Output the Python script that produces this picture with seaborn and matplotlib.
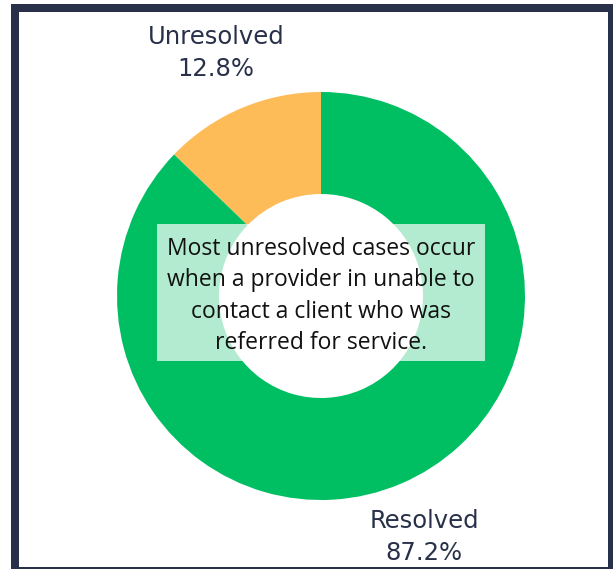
import matplotlib.pyplot as plt
import matplotlib.patches as mpatches
import seaborn as sns

# data
labels = ['Unresolved', 'Resolved']
shares = [12.8, 87.2]
colors = ['#FEBC59', '#00BF63']
note = ('Most unresolved cases occur\nwhen a provider in unable to\n'
        'contact a client who was\nreferred for service.')

sns.set_theme(style='white')
plt.rcParams['font.family'] = ['DejaVu Sans']

W, H = 613, 569
fig = plt.figure(figsize=(W / 100, H / 100), dpi=100)
fig.patch.set_facecolor('white')
ax = fig.add_axes([0, 0, 1, 1])

# donut, pixel-like data coordinates (y up)
cx, cy, r = 321, H - 296, 204
wedges, _ = ax.pie(shares, colors=colors, startangle=90, counterclock=True,
                   center=(cx, cy), radius=r,
                   wedgeprops=dict(width=r * 0.5, edgecolor='none'))
ax.set_xlim(0, W)
ax.set_ylim(0, H)
ax.set_aspect('auto')
ax.axis('off')

# translucent white note box (hole stays white under it)
ax.add_patch(mpatches.Rectangle((157, H - 361), 328, 137, facecolor='white',
                                alpha=0.7, edgecolor='none', zorder=3))
ax.text(321, H - 296, note, ha='center', va='center', fontsize=16.5,
        family=['Open Sans', 'DejaVu Sans'], color='#111111',
        linespacing=1.42, zorder=4)

# slice labels
navy = '#283149'
ax.text(216, H - 53, f'{labels[0]}\n{shares[0]}%', ha='center', va='center',
        fontsize=17.5, color=navy, linespacing=1.45)
ax.text(424, H - 537, f'{labels[1]}\n{shares[1]}%', ha='center', va='center',
        fontsize=17.5, color=navy, linespacing=1.45)

# frame
for x0, y0, w, h in [(11, 4, 8, 565), (11, 4, 602, 8), (608, 4, 5, 565), (11, 567, 602, 2)]:
    fig.patches.append(mpatches.Rectangle((x0 / W, 1 - (y0 + h) / H), w / W, h / H,
                                          transform=fig.transFigure, facecolor=navy,
                                          edgecolor='none', zorder=10))

fig.savefig('out.png', dpi=100)
